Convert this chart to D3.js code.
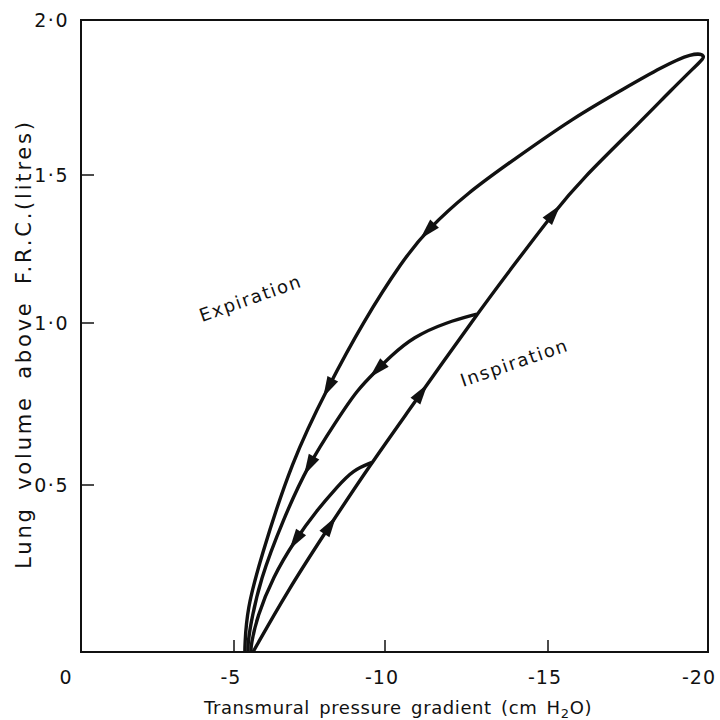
<!DOCTYPE html>
<html>
<head>
<meta charset="utf-8">
<script src="https://cdn.jsdelivr.net/npm/d3@7"></script>
<style>
  body { margin: 0; background: #fff; }
  text { font-family: "DejaVu Sans", sans-serif; fill: #111; }
</style>
</head>
<body>
<div id="container"></div>
<script>
/* CONSTANTS AND GLOBALS */
const width = 720,
  height = 720;

// axis ticks (pressure is negative, plotted increasing to the right)
const pressureTicks = [0, -5, -10, -15, -20];
const pressureLabels = ["0", "-5", "-10", "-15", "-20"];
const volumeTicks = [0, 0.5, 1.0, 1.5, 2.0];
const volumeLabels = ["0", "0·5", "1·0", "1·5", "2·0"];

// inspiration limb, from F.R.C. up to the top of the big loop
const inspPressure = [-5.63, -6.75, -8.18, -9.57, -10.52, -12.82, -14.05, -15.16, -16.0, -17.97, -18.81, -19.75, -19.95];
const inspVolume = [0, 0.18, 0.38, 0.57, 0.70, 1.03, 1.21, 1.37, 1.48, 1.68, 1.77, 1.865, 1.886];

// expiration limb of the big breath
const outerPressure = [-19.53, -18.5, -17.47, -15.78, -13.93, -12.52, -11.29, -10.55, -9.27, -8.11, -6.92, -5.86, -5.43, -5.36, -5.36];
const outerVolume = [1.896, 1.845, 1.784, 1.684, 1.548, 1.439, 1.314, 1.213, 1.003, 0.802, 0.577, 0.275, 0.126, 0.02, 0];

// expiration limb of the medium breath
const midPressure = [-12.82, -11.90, -10.86, -10.15, -9.74, -9.07, -8.41, -7.45, -6.62, -5.86, -5.53, -5.46, -5.46];
const midVolume = [1.03, 1.003, 0.957, 0.895, 0.855, 0.793, 0.70, 0.562, 0.395, 0.216, 0.075, 0.02, 0];

// expiration limb of the small breath
const smallPressure = [-9.57, -8.94, -8.41, -7.75, -7.02, -6.29, -5.76, -5.56, -5.56];
const smallVolume = [0.57, 0.546, 0.494, 0.425, 0.335, 0.225, 0.105, 0.02, 0];

// where the arrow heads sit
const inspArrows = [[-8.18, 0.38], [-11.17, 0.78], [-15.16, 1.37]];
const outerArrows = [[-11.29, 1.314], [-8.11, 0.802]];
const midArrows = [[-9.74, 0.855], [-7.45, 0.562]];
const smallArrows = [[-7.02, 0.335]];

// the scanned figure's ticks are not evenly spaced, so the scales follow the tick marks
const xScale = d3.scaleLinear()
  .domain(pressureTicks)
  .range([81, 234, 385, 548, 708]);

const yScale = d3.scaleLinear()
  .domain(volumeTicks)
  .range([652, 485, 323, 175, 20]);

const zip = (a, b) => a.map((d, i) => [d, b[i]]);

const line = d3.line()
  .x(d => xScale(d[0]))
  .y(d => yScale(d[1]))
  .curve(d3.curveBasis);

/* INIT */
const svg = d3.select("#container")
  .append("svg")
  .attr("width", width)
  .attr("height", height);

// frame
svg.append("rect")
  .attr("x", xScale(0))
  .attr("y", yScale(2))
  .attr("width", xScale(-20) - xScale(0))
  .attr("height", yScale(0) - yScale(2))
  .attr("fill", "none")
  .attr("stroke", "#111")
  .attr("stroke-width", 2);

// inward ticks
svg.selectAll(".xtick")
  .data(pressureTicks.slice(1, -1))
  .join("line")
  .attr("class", "xtick")
  .attr("x1", d => xScale(d)).attr("x2", d => xScale(d))
  .attr("y1", yScale(0)).attr("y2", yScale(0) - 12)
  .attr("stroke", "#111").attr("stroke-width", 1.5);

svg.selectAll(".ytick")
  .data(volumeTicks.slice(1, -1))
  .join("line")
  .attr("class", "ytick")
  .attr("x1", xScale(0)).attr("x2", xScale(0) + 13)
  .attr("y1", d => yScale(d)).attr("y2", d => yScale(d))
  .attr("stroke", "#111").attr("stroke-width", 1.5);

// tick labels
svg.selectAll(".xlab")
  .data(pressureTicks)
  .join("text")
  .attr("class", "xlab")
  .attr("x", (d, i) => i === 0 ? xScale(d) - 15 : xScale(d) - (i === 4 ? 9 : 3))
  .attr("y", yScale(0) + 32)
  .attr("text-anchor", "middle")
  .style("font-size", "19px")
  .style("letter-spacing", "1px")
  .text((d, i) => pressureLabels[i]);

svg.selectAll(".ylab")
  .data(volumeTicks.slice(1))
  .join("text")
  .attr("class", "ylab")
  .attr("x", xScale(0) - 12)
  .attr("y", d => yScale(d) + 7)
  .attr("text-anchor", "end")
  .style("font-size", "19px")
  .style("letter-spacing", "1.5px")
  .text((d, i) => volumeLabels[i + 1]);

// axis titles
svg.append("text")
  .attr("x", 398)
  .attr("y", 714)
  .attr("text-anchor", "middle")
  .style("font-size", "18px")
  .style("letter-spacing", "0.6px")
  .style("word-spacing", "3px")
  .text("Transmural pressure gradient (cm H")
  .append("tspan").attr("dy", 4).style("font-size", "13px").text("2")
  .select(function () { return this.parentNode; })
  .append("tspan").attr("dy", -4).text("O)");

svg.append("text")
  .attr("transform", `translate(31,${(yScale(0) + yScale(2)) / 2 + 8}) rotate(-90)`)
  .attr("text-anchor", "middle")
  .style("font-size", "21px")
  .style("letter-spacing", "2.8px")
  .style("word-spacing", "7px")
  .text("Lung volume above F.R.C.(litres)");

// loops
const bigLoop = svg.append("path")
  .attr("d", line(zip(inspPressure, inspVolume).concat(zip(outerPressure, outerVolume))))
  .attr("fill", "none").attr("stroke", "#111")
  .attr("stroke-width", 3.4).attr("stroke-linejoin", "round");

const midLoop = svg.append("path")
  .attr("d", line(zip(midPressure, midVolume)))
  .attr("fill", "none").attr("stroke", "#111").attr("stroke-width", 3.4);

const smallLoop = svg.append("path")
  .attr("d", line(zip(smallPressure, smallVolume)))
  .attr("fill", "none").attr("stroke", "#111").attr("stroke-width", 3.4);

function addArrows(path, pts) {
  const node = path.node();
  const len = node.getTotalLength();
  pts.forEach(([p, v]) => {
    const tx = xScale(p), ty = yScale(v);
    let best = 0, bd = Infinity;
    for (let l = 0; l <= len; l += 1) {
      const q = node.getPointAtLength(l);
      const dd = (q.x - tx) ** 2 + (q.y - ty) ** 2;
      if (dd < bd) { bd = dd; best = l; }
    }
    const a = node.getPointAtLength(Math.max(0, best - 4));
    const b = node.getPointAtLength(Math.min(len, best + 4));
    const c = node.getPointAtLength(best);
    const ang = Math.atan2(b.y - a.y, b.x - a.x) * 180 / Math.PI;
    svg.append("path")
      .attr("d", "M11,0 L-10,-6 L-10,6 Z")
      .attr("transform", `translate(${c.x},${c.y}) rotate(${ang})`)
      .attr("fill", "#111");
  });
}

addArrows(bigLoop, inspArrows);
addArrows(bigLoop, outerArrows);
addArrows(midLoop, midArrows);
addArrows(smallLoop, smallArrows);

// phase labels
svg.append("text")
  .attr("transform", "translate(202,322) rotate(-19.5)")
  .style("font-size", "18px")
  .style("letter-spacing", "1.6px")
  .text("Expiration");

svg.append("text")
  .attr("transform", "translate(463,387) rotate(-19)")
  .style("font-size", "18px")
  .style("letter-spacing", "1.6px")
  .text("Inspiration");
</script>
</body>
</html>
